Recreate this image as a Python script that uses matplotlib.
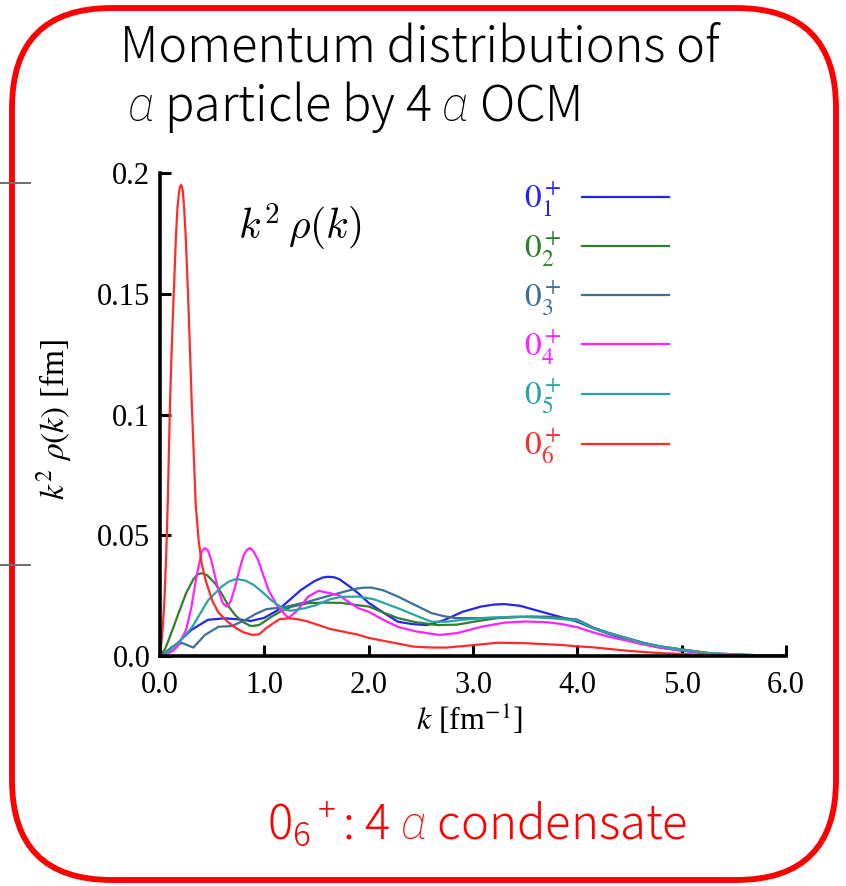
"""k^2 rho(k) momentum distributions of the alpha particle (4 alpha OCM), 0+ states."""
import matplotlib
matplotlib.use("Agg")
import matplotlib.pyplot as plt
from matplotlib.lines import Line2D
from matplotlib.patches import FancyBboxPatch
from matplotlib.transforms import IdentityTransform

# --- data ----------------------------------------------------------------
k_01 = [0, 0.08, 0.17, 0.3, 0.46, 0.62, 0.75, 0.87, 1.0, 1.13, 1.25, 1.35, 1.48,
        1.56, 1.61, 1.67, 1.72, 1.82, 1.9, 2.0, 2.14, 2.28, 2.42, 2.56, 2.72, 2.9,
        3.08, 3.2, 3.3, 3.45, 3.7, 3.85, 4.0, 4.15, 4.3, 4.47, 4.63, 4.79, 5.0,
        5.28, 5.6, 6.0]
rho_01 = [0, 0.002, 0.0054, 0.0108, 0.015, 0.0156, 0.0152, 0.0145, 0.0158, 0.019,
          0.0235, 0.0273, 0.031, 0.0325, 0.0328, 0.0326, 0.0318, 0.0287, 0.026,
          0.022, 0.018, 0.0142, 0.0132, 0.0128, 0.0148, 0.0183, 0.0205, 0.0213,
          0.0215, 0.0208, 0.0178, 0.016, 0.0142, 0.0115, 0.0092, 0.0068, 0.005,
          0.0035, 0.0022, 0.0009, 0.0004, 0.0]

k_02 = [0, 0.05, 0.12, 0.18, 0.25, 0.32, 0.36, 0.4, 0.45, 0.53, 0.6, 0.66, 0.72,
        0.79, 0.87, 0.95, 1.07, 1.18, 1.26, 1.42, 1.58, 1.74, 1.9, 2.0, 2.14, 2.28,
        2.45, 2.66, 2.85, 3.05, 3.24, 3.45, 3.7, 3.85, 4.0, 4.15, 4.3, 4.47, 4.63,
        4.79, 5.0, 5.28, 5.6, 6.0]
rho_02 = [0, 0.003, 0.0108, 0.018, 0.026, 0.0318, 0.0338, 0.0343, 0.0335, 0.03,
          0.0252, 0.0204, 0.017, 0.0142, 0.0124, 0.0128, 0.0163, 0.019, 0.0204,
          0.0219, 0.0221, 0.022, 0.021, 0.0205, 0.018, 0.0157, 0.014, 0.0128,
          0.013, 0.0145, 0.0157, 0.0162, 0.0163, 0.0158, 0.015, 0.0118, 0.0095,
          0.0074, 0.0055, 0.004, 0.0027, 0.0011, 0.0005, 0.0]

k_03 = [0, 0.06, 0.12, 0.21, 0.32, 0.43, 0.56, 0.69, 0.82, 0.92, 1.02, 1.2, 1.42,
        1.64, 1.87, 1.95, 2.03, 2.14, 2.28, 2.45, 2.6, 2.72, 2.83, 3.08, 3.3, 3.56,
        3.8, 4.0, 4.15, 4.3, 4.47, 4.63, 4.79, 5.0, 5.28, 5.6, 6.0]
rho_03 = [0, 0.0018, 0.0039, 0.0054, 0.0035, 0.0087, 0.0121, 0.0124, 0.015, 0.0175,
          0.0194, 0.0203, 0.0225, 0.0252, 0.0278, 0.0283, 0.0283, 0.0272, 0.0246,
          0.021, 0.0178, 0.0165, 0.0157, 0.0157, 0.016, 0.0163, 0.0158, 0.015,
          0.0118, 0.0096, 0.0075, 0.0055, 0.004, 0.0027, 0.0011, 0.0005, 0.0]

k_04 = [0, 0.06, 0.12, 0.17, 0.25, 0.3, 0.35, 0.4, 0.43, 0.46, 0.49, 0.53, 0.56,
        0.6, 0.64, 0.68, 0.72, 0.76, 0.8, 0.83, 0.86, 0.89, 0.94, 0.99, 1.04, 1.12,
        1.23, 1.32, 1.42, 1.52, 1.63, 1.71, 1.9, 2.0, 2.14, 2.28, 2.45, 2.68, 2.85,
        3.08, 3.3, 3.5, 3.7, 3.84, 4.0, 4.15, 4.3, 4.47, 4.63, 4.79, 5.0, 5.28,
        5.6, 6.0]
rho_04 = [0, 0.0008, 0.002, 0.004, 0.0108, 0.02, 0.033, 0.0432, 0.0447, 0.0437,
          0.04, 0.0325, 0.0273, 0.022, 0.0204, 0.0228, 0.0287, 0.0355, 0.0415,
          0.0438, 0.0447, 0.0438, 0.0398, 0.0335, 0.0273, 0.021, 0.0157, 0.019,
          0.0246, 0.027, 0.026, 0.0252, 0.0198, 0.0183, 0.015, 0.0121, 0.0102,
          0.0087, 0.0095, 0.0121, 0.0138, 0.0143, 0.014, 0.0133, 0.0119, 0.0098,
          0.008, 0.0064, 0.0048, 0.0035, 0.0023, 0.001, 0.0004, 0.0]

k_05 = [0, 0.06, 0.12, 0.2, 0.31, 0.46, 0.59, 0.66, 0.73, 0.82, 0.9, 0.98, 1.07,
        1.2, 1.26, 1.38, 1.49, 1.63, 1.74, 1.9, 2.05, 2.28, 2.45, 2.6, 2.75, 2.9,
        3.15, 3.4, 3.7, 4.0, 4.15, 4.3, 4.47, 4.63, 4.79, 5.0, 5.28, 5.6, 6.0]
rho_05 = [0, 0.0012, 0.0033, 0.0065, 0.0121, 0.023, 0.0287, 0.0308, 0.0319, 0.0312,
          0.0294, 0.0265, 0.023, 0.019, 0.0188, 0.0197, 0.021, 0.0235, 0.0245,
          0.0246, 0.0235, 0.0198, 0.0168, 0.0142, 0.0142, 0.015, 0.0158, 0.0163,
          0.0158, 0.0147, 0.0116, 0.0094, 0.0073, 0.0054, 0.0039, 0.0026, 0.0011,
          0.0005, 0.0]

k_06 = [0, 0.01, 0.025, 0.041, 0.058, 0.074, 0.096, 0.112, 0.128, 0.153, 0.168,
        0.18, 0.19, 0.2, 0.21, 0.22, 0.232, 0.246, 0.272, 0.304, 0.342, 0.37, 0.4,
        0.44, 0.47, 0.5, 0.56, 0.64, 0.72, 0.8, 0.89, 0.95, 1.02, 1.1, 1.15, 1.24,
        1.32, 1.4, 1.63, 1.9, 2.0, 2.2, 2.43, 2.6, 2.75, 3.0, 3.24, 3.5, 3.84, 4.0,
        4.15, 4.47, 4.79, 5.13, 5.45, 6.0]
rho_06 = [0, 0.004, 0.011, 0.022, 0.04, 0.063, 0.105, 0.127, 0.146, 0.174, 0.186,
          0.191, 0.194, 0.195, 0.1945, 0.192, 0.185, 0.174, 0.146, 0.105, 0.063,
          0.048, 0.038, 0.031, 0.027, 0.023, 0.018, 0.0145, 0.0118, 0.0098,
          0.0087, 0.009, 0.0116, 0.014, 0.0153, 0.0156, 0.0152, 0.0145, 0.0112,
          0.0088, 0.0075, 0.0058, 0.0039, 0.0035, 0.0035, 0.0045, 0.0055, 0.0053,
          0.0046, 0.004, 0.0036, 0.0022, 0.0012, 0.0006, 0.0002, 0.0]

series_k = [k_01, k_02, k_03, k_04, k_05, k_06]
series_rho = [rho_01, rho_02, rho_03, rho_04, rho_05, rho_06]
labels = [r"$0_1^+$", r"$0_2^+$", r"$0_3^+$", r"$0_4^+$", r"$0_5^+$", r"$0_6^+$"]
colors = ["#2424f2", "#2f7f2f", "#3c6f96", "#ff22ff", "#2aa3a3", "#ff2a2a"]

x_ticks = [0, 1, 2, 3, 4, 5, 6]
x_ticklabels = ["0.0", "1.0", "2.0", "3.0", "4.0", "5.0", "6.0"]
y_ticks = [0, 0.05, 0.1, 0.15, 0.2]
y_ticklabels = ["0.0", "0.05", "0.1", "0.15", "0.2"]

# --- figure ---------------------------------------------------------------
plt.rcParams["mathtext.fontset"] = "stix"
# "custom" set, used only by the slide texts (title / footer)
plt.rcParams["mathtext.rm"] = "Noto Sans CJK JP:light"
plt.rcParams["mathtext.it"] = "Roboto:italic:light"
serif = "Liberation Serif"
sans = "Noto Sans CJK JP"

W, H = 846, 886
fig = plt.figure(figsize=(W / 100, H / 100), dpi=100)
ax = fig.add_axes([160 / W, 1 - 656 / H, 626 / W, 483 / H])

for kk, rr, lab, col in zip(series_k, series_rho, labels, colors):
    ax.plot(kk, rr, color=col, lw=1.6, label=lab)

ax.set_xlim(0, 6)
ax.set_ylim(0, 0.2)
ax.set_xticks(x_ticks, x_ticklabels, fontfamily=serif, fontsize=22)
ax.set_yticks(y_ticks, y_ticklabels, fontfamily=serif, fontsize=22)
ax.tick_params(direction="in", length=8, width=2.2, color="black")
ax.tick_params(axis="x", pad=11)
ax.tick_params(axis="y", pad=7)
for side in ("top", "right"):
    ax.spines[side].set_visible(False)
for side in ("left", "bottom"):
    ax.spines[side].set_linewidth(2.6)

ax.set_ylabel(r"$k^2\ \rho(k)$ [fm]", fontfamily=serif, fontsize=24)
ax.yaxis.set_label_coords(-0.137, 0.49)
ax.set_xlabel(r"$k$ [fm$^{-1}$]", fontfamily=serif, fontsize=23)
ax.xaxis.set_label_coords(0.495, -0.095)

ax.text(0.124, 0.888, r"$k^2\,\rho(k)$", transform=ax.transAxes, fontsize=30,
        math_fontfamily="cm", va="center", ha="left")

leg = ax.legend(loc="upper left", bbox_to_anchor=(0.581, 0.983), frameon=False,
                markerfirst=False, labelcolor="linecolor",
                prop={"family": serif, "size": 24}, handlelength=2.6,
                handletextpad=0.62, labelspacing=0.32, borderpad=0, borderaxespad=0)

# --- slide decoration -----------------------------------------------------
fig.text(120 / W, 1 - 62 / H, "Momentum distributions of", fontfamily=sans,
         fontsize=35, fontweight="light", va="baseline", ha="left")
fig.text(127 / W, 1 - 121 / H, r"$\alpha$ particle by 4 $\alpha$ OCM", fontfamily=sans,
         fontsize=35, fontweight="light", va="baseline", ha="left",
         math_fontfamily="custom")
fig.text(267 / W, 1 - 838 / H, r"0$\mathrm{_6{}^+}$: 4 $\alpha$ condensate",
         fontfamily=sans, fontsize=34, fontweight="light", va="baseline", ha="left",
         color="#ff0000", math_fontfamily="custom")

border = FancyBboxPatch((12, 6), 824, 872, boxstyle="round,pad=0,rounding_size=100",
                        transform=IdentityTransform(), fill=False, ec="#ff0000", lw=4.2)
fig.add_artist(border)
for yy in (183, 565):
    fig.add_artist(Line2D([0, 30], [H - yy, H - yy], transform=IdentityTransform(),
                          color="#6e6e6e", lw=1.4))

fig.savefig("out.png", dpi=100)
